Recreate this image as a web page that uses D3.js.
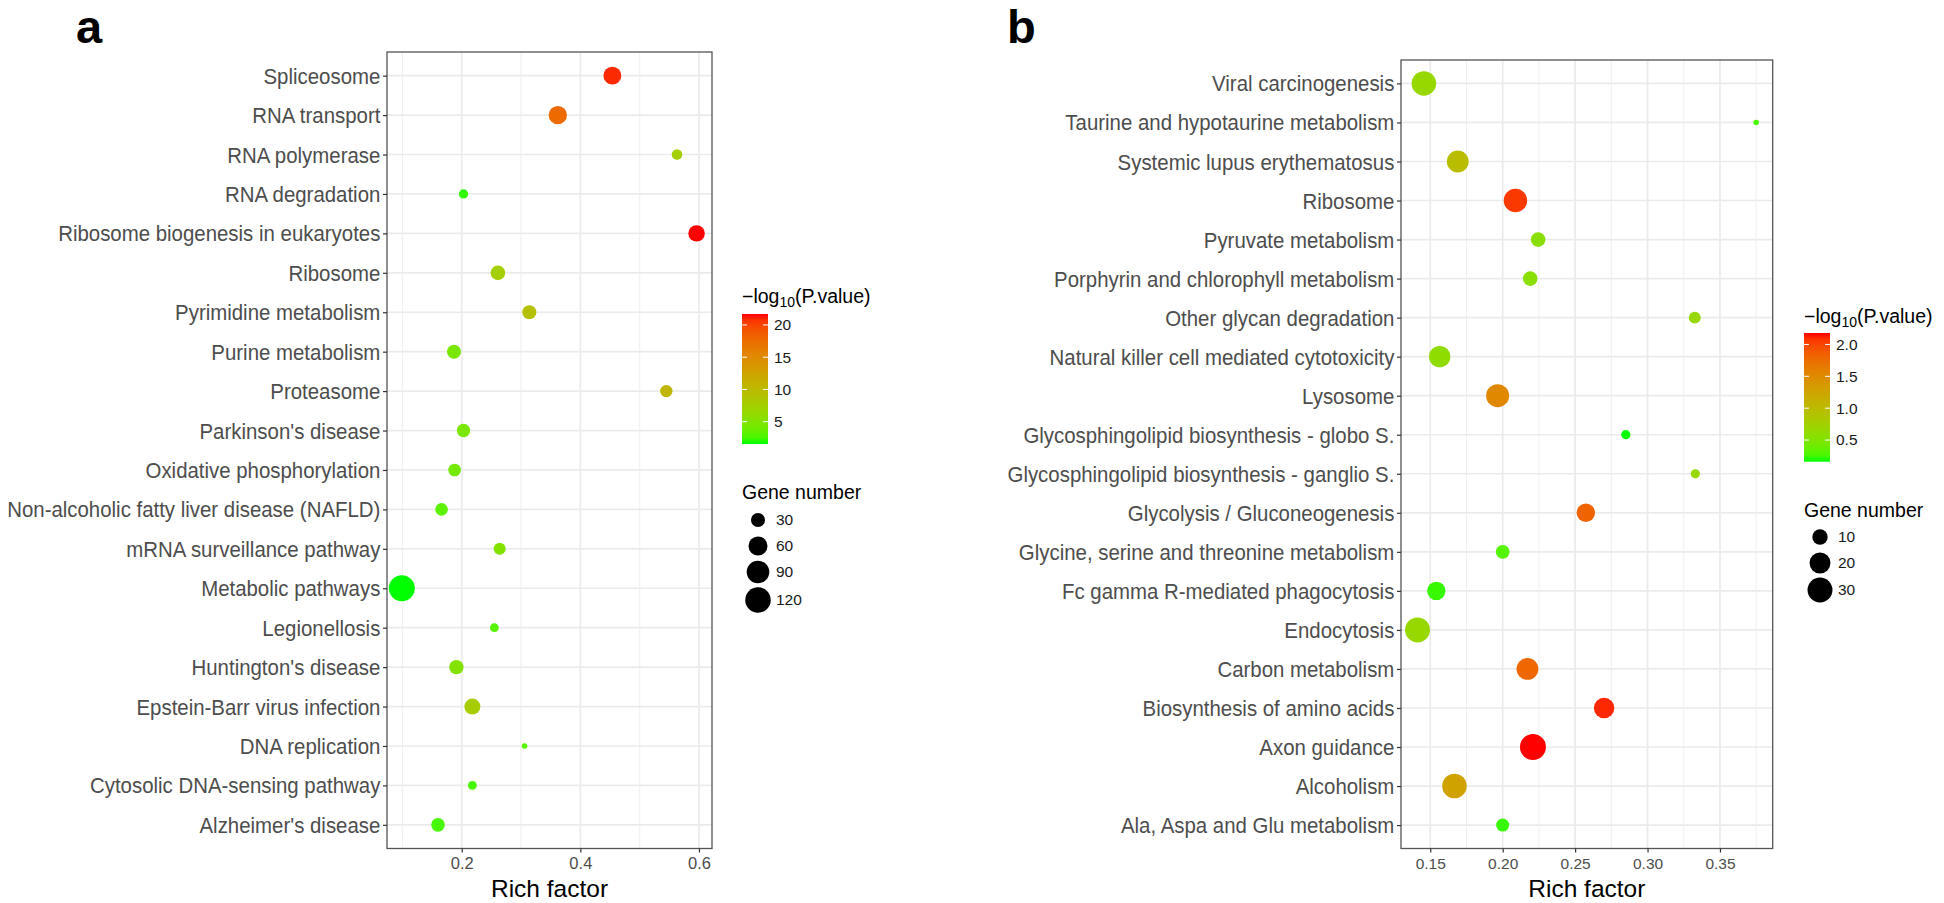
<!DOCTYPE html>
<html>
<head>
<meta charset="utf-8">
<script src="https://cdn.jsdelivr.net/npm/d3@7"></script>
<style>
  html, body { margin: 0; padding: 0; background: #fff; }
  svg { display: block; font-family: "Liberation Sans", Arial, sans-serif; }
</style>
</head>
<body>
<svg id="chart" width="1944" height="903"></svg>
<script>
// ---------------- DATA ----------------
const catsA = ["Spliceosome","RNA transport","RNA polymerase","RNA degradation","Ribosome biogenesis in eukaryotes","Ribosome","Pyrimidine metabolism","Purine metabolism","Proteasome","Parkinson's disease","Oxidative phosphorylation","Non-alcoholic fatty liver disease (NAFLD)","mRNA surveillance pathway","Metabolic pathways","Legionellosis","Huntington's disease","Epstein-Barr virus infection","DNA replication","Cytosolic DNA-sensing pathway","Alzheimer's disease"];
const richA = [0.454,0.362,0.563,0.203,0.596,0.261,0.314,0.187,0.545,0.203,0.188,0.166,0.264,0.099,0.255,0.191,0.218,0.306,0.218,0.160];
const geneA = [52,55,17,14,43,33,30,30,23,27,24,24,22,125,13,32,40,10,13,28];
const logpA = [21.0,17.7,7.6,2.0,21.7,7.6,9.2,4.6,10.6,4.6,4.2,3.2,5.2,1.54,3.0,5.2,7.8,3.0,2.5,2.5];

const catsB = ["Viral carcinogenesis","Taurine and hypotaurine metabolism","Systemic lupus erythematosus","Ribosome","Pyruvate metabolism","Porphyrin and chlorophyll metabolism","Other glycan degradation","Natural killer cell mediated cytotoxicity","Lysosome","Glycosphingolipid biosynthesis - globo S.","Glycosphingolipid biosynthesis - ganglio S.","Glycolysis / Gluconeogenesis","Glycine, serine and threonine metabolism","Fc gamma R-mediated phagocytosis","Endocytosis","Carbon metabolism","Biosynthesis of amino acids","Axon guidance","Alcoholism","Ala, Aspa and Glu metabolism"];
const richB = [0.1456,0.375,0.169,0.2088,0.2245,0.219,0.3326,0.1565,0.1965,0.285,0.333,0.2574,0.200,0.1542,0.1412,0.2171,0.270,0.2209,0.1667,0.200];
const geneB = [29,3,22,26,9,9,6,21,25,4,4,15,8,15,30,22,19,33,29,7];
const logpB = [0.66,0.26,0.97,2.06,0.56,0.56,0.66,0.60,1.53,0.16,0.66,1.82,0.30,0.22,0.66,1.80,2.12,2.18,1.27,0.22];

const xTicksA = [0.2,0.4,0.6];
const xMinorA = [0.1,0.3,0.5];
const xTicksB = [0.15,0.20,0.25,0.30,0.35];
const xMinorB = [0.175,0.225,0.275,0.325,0.375];
const colorTicksA = [5,10,15,20];
const colorTicksB = [0.5,1.0,1.5,2.0];
const sizeKeysA = [30,60,90,120];
const sizeKeysB = [10,20,30];

// ---------------- DRAW ----------------
const svg = d3.select("#chart");
const defs = svg.append("defs");

function panel(cfg) {
  const g = svg.append("g");
  const x = d3.scaleLinear().domain(cfg.xDomain).range([cfg.left, cfg.right]);
  const y = d3.scalePoint().domain(cfg.cats).range([cfg.top, cfg.bottom]).padding(0.6);
  const cExt = d3.extent(cfg.logp);
  const color = d3.scaleLinear().domain(cExt).range(["#00ff00", "#ff0000"]).interpolate(d3.interpolateLab);
  const gExt = d3.extent(cfg.gene);
  const norm = d3.scaleLinear().domain(gExt).range([0, 1]).clamp(true);
  const rad = d3.scaleLinear().domain([0, 1]).range([2.74, 13.0]);
  const r = v => rad(Math.sqrt(norm(v)));

  // grid
  g.selectAll(".minor").data(cfg.minor).join("line")
    .attr("x1", d => x(d)).attr("x2", d => x(d))
    .attr("y1", cfg.top).attr("y2", cfg.bottom)
    .attr("stroke", "#ededed").attr("stroke-width", 0.9);
  g.selectAll(".majx").data(cfg.ticks).join("line")
    .attr("x1", d => x(d)).attr("x2", d => x(d))
    .attr("y1", cfg.top).attr("y2", cfg.bottom)
    .attr("stroke", "#ebebeb").attr("stroke-width", 1.7);
  g.selectAll(".majy").data(cfg.cats).join("line")
    .attr("x1", cfg.left).attr("x2", cfg.right)
    .attr("y1", d => y(d)).attr("y2", d => y(d))
    .attr("stroke", "#ebebeb").attr("stroke-width", 1.7);

  // points
  const idx = d3.range(cfg.cats.length);
  g.selectAll(".pt").data(idx).join("circle")
    .attr("cx", i => x(cfg.rich[i]))
    .attr("cy", i => y(cfg.cats[i]))
    .attr("r", i => r(cfg.gene[i]))
    .attr("fill", i => color(cfg.logp[i]));

  // border
  g.append("rect")
    .attr("x", cfg.left).attr("y", cfg.top)
    .attr("width", cfg.right - cfg.left).attr("height", cfg.bottom - cfg.top)
    .attr("fill", "none").attr("stroke", "#555").attr("stroke-width", 1.3);

  // axes
  const yAxis = d3.axisLeft(y).tickSize(4).tickPadding(3);
  const ya = g.append("g").attr("transform", `translate(${cfg.left},0)`).call(yAxis);
  ya.select(".domain").remove();
  ya.selectAll(".tick line").attr("stroke", "#333").attr("stroke-width", 1.2);
  ya.selectAll(".tick text").attr("font-size", "21.5px").attr("fill", "#4d4d4d")
    .attr("font-family", "Liberation Sans, Arial, sans-serif").attr("dy", "0.35em")
    .attr("transform", "scale(0.95,1)");

  const xAxis = d3.axisBottom(x).tickValues(cfg.ticks).tickFormat(cfg.fmt).tickSize(4).tickPadding(5);
  const xa = g.append("g").attr("transform", `translate(0,${cfg.bottom})`).call(xAxis);
  xa.select(".domain").remove();
  xa.selectAll(".tick line").attr("stroke", "#333").attr("stroke-width", 1.2);
  xa.selectAll(".tick text").attr("font-size", cfg.tickFont).attr("fill", "#4d4d4d")
    .attr("font-family", "Liberation Sans, Arial, sans-serif");

  g.append("text").attr("x", (cfg.left + cfg.right) / 2).attr("y", 897)
    .attr("text-anchor", "middle").attr("font-size", "24.5px").attr("fill", "#000")
    .text("Rich factor");

  // panel letter
  g.append("text").attr("x", cfg.letterX).attr("y", 43)
    .attr("font-size", "47px").attr("font-weight", "bold").attr("fill", "#000")
    .text(cfg.letter);

  // colour legend
  const L = cfg.legend;
  const t = g.append("text").attr("x", L.x).attr("y", L.titleY).attr("font-size", "19.5px").attr("fill", "#000");
  t.append("tspan").text("\u2212log");
  t.append("tspan").attr("font-size", "14px").attr("dy", "4").text("10");
  t.append("tspan").attr("dy", "-4").text("(P.value)");

  const cb = d3.scaleLinear().domain(cExt).range([L.barBottom, L.barTop]);
  const gid = "grad" + cfg.letter;
  const grad = defs.append("linearGradient").attr("id", gid)
    .attr("x1", 0).attr("y1", 1).attr("x2", 0).attr("y2", 0);
  d3.range(0, 1.0001, 0.05).forEach(f => {
    grad.append("stop").attr("offset", f)
      .attr("stop-color", color(cExt[0] + f * (cExt[1] - cExt[0])));
  });
  g.append("rect").attr("x", L.x).attr("y", L.barTop)
    .attr("width", 26).attr("height", L.barBottom - L.barTop)
    .attr("fill", `url(#${gid})`);
  L.cticks.forEach(v => {
    const yy = cb(v);
    g.append("line").attr("x1", L.x).attr("x2", L.x + 5).attr("y1", yy).attr("y2", yy)
      .attr("stroke", "#fff").attr("stroke-width", 1);
    g.append("line").attr("x1", L.x + 21).attr("x2", L.x + 26).attr("y1", yy).attr("y2", yy)
      .attr("stroke", "#fff").attr("stroke-width", 1);
    g.append("text").attr("x", L.x + 32).attr("y", yy).attr("dy", "0.35em")
      .attr("font-size", "15.5px").attr("fill", "#1a1a1a").text(cfg.cfmt(v));
  });

  // size legend
  g.append("text").attr("x", L.x).attr("y", L.sizeTitleY).attr("font-size", "19.5px").attr("fill", "#000")
    .text("Gene number");
  L.skeys.forEach((v, i) => {
    const yy = L.sizeY[i];
    g.append("circle").attr("cx", L.x + 16).attr("cy", yy).attr("r", r(v)).attr("fill", "#000");
    g.append("text").attr("x", L.x + 34).attr("y", yy).attr("dy", "0.35em")
      .attr("font-size", "15.5px").attr("fill", "#1a1a1a").text(v);
  });
}

panel({
  letter: "a", letterX: 76,
  cats: catsA, rich: richA, gene: geneA, logp: logpA,
  xDomain: [0.074, 0.622], ticks: xTicksA, minor: xMinorA, fmt: d3.format(".1f"), tickFont: "16.5px",
  left: 387, right: 712, top: 52, bottom: 848.5,
  cfmt: d3.format("d"),
  legend: { x: 742, titleY: 303, barTop: 314, barBottom: 444, cticks: colorTicksA,
            sizeTitleY: 499, skeys: sizeKeysA, sizeY: [520, 546, 572, 600] }
});

panel({
  letter: "b", letterX: 1007,
  cats: catsB, rich: richB, gene: geneB, logp: logpB,
  xDomain: [0.1298, 0.3864], ticks: xTicksB, minor: xMinorB, fmt: d3.format(".2f"), tickFont: "15.5px",
  left: 1401, right: 1772.7, top: 60, bottom: 848.5,
  cfmt: d3.format(".1f"),
  legend: { x: 1804, titleY: 323, barTop: 333, barBottom: 461.7, cticks: colorTicksB,
            sizeTitleY: 517, skeys: sizeKeysB, sizeY: [537, 563, 590] }
});
</script>
</body>
</html>
